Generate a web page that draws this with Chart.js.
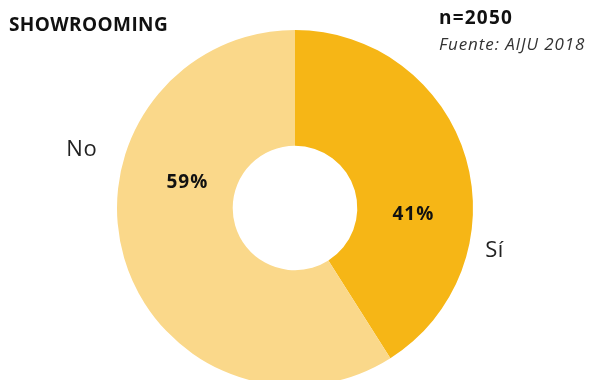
<!DOCTYPE html>
<html>
<head>
<meta charset="utf-8">
<script src="https://cdn.jsdelivr.net/npm/chart.js@4.4.1/dist/chart.umd.min.js"></script>
<style>
  html, body { margin: 0; padding: 0; background: #ffffff; }
  #wrap { position: relative; width: 592px; height: 380px; overflow: hidden; }
  #box { position: absolute; left: 0; top: 0; width: 592px; height: 420px; }
  .t { position: absolute; font-family: "Open Sans", sans-serif; color: #111; white-space: nowrap; }
</style>
</head>
<body>
<div id="wrap">
  <div id="box"><canvas id="c"></canvas></div>
  <div class="t" id="title" style="left:9px; top:11px; font-size:19px; font-weight:700; letter-spacing:0.4px;">SHOWROOMING</div>
  <div class="t" id="n" style="left:439px; top:4px; font-size:19px; font-weight:700; letter-spacing:1.2px;">n=2050</div>
  <div class="t" id="src" style="left:439px; top:32px; font-size:17px; font-style:italic; letter-spacing:0.9px; color:#333;">Fuente: AIJU 2018</div>
</div>
<script>
const categories = ["Sí", "No"];
const shares = [41, 59];
const colors = ["#F6B616", "#FAD88A"];

// label placement around the ring (degrees clockwise from 12 o'clock, radius in px)
const valueLabelPos = [{ angle: 93, r: 118 }, { angle: 283, r: 111 }];
const nameLabelPos = [{ angle: 102, r: 204 }, { angle: 285.2, r: 221 }];

const ringLabels = {
  id: "ringLabels",
  afterDatasetsDraw(chart) {
    const ctx = chart.ctx;
    const arcs = chart.getDatasetMeta(0).data;
    ctx.save();
    ctx.textAlign = "center";
    ctx.textBaseline = "middle";
    arcs.forEach((arc, i) => {
      const { x, y } = arc.getProps(["x", "y"], true);
      const place = (p) => {
        const a = p.angle * Math.PI / 180;
        return [x + Math.sin(a) * p.r, y - Math.cos(a) * p.r];
      };
      const [vx, vy] = place(valueLabelPos[i]);
      ctx.fillStyle = "#111";
      ctx.font = "700 19px 'Open Sans', sans-serif";
      ctx.letterSpacing = "1px";
      ctx.fillText(shares[i] + "%", vx + 0.5, vy);
      const [nx, ny] = place(nameLabelPos[i]);
      ctx.fillStyle = "#222";
      ctx.font = "400 22px 'Open Sans', sans-serif";
      ctx.letterSpacing = "0.5px";
      ctx.fillText(categories[i], nx, ny);
    });
    ctx.restore();
  }
};

new Chart(document.getElementById("c"), {
  type: "doughnut",
  data: {
    labels: categories,
    datasets: [{
      data: shares,
      backgroundColor: colors,
      borderWidth: 0
    }]
  },
  options: {
    responsive: true,
    maintainAspectRatio: false,
    animation: false,
    cutout: "35%",
    layout: { padding: { left: 117, right: 119, top: 30, bottom: 34 } },
    plugins: { legend: { display: false }, tooltip: { enabled: false } }
  },
  plugins: [ringLabels]
});
</script>
</body>
</html>
